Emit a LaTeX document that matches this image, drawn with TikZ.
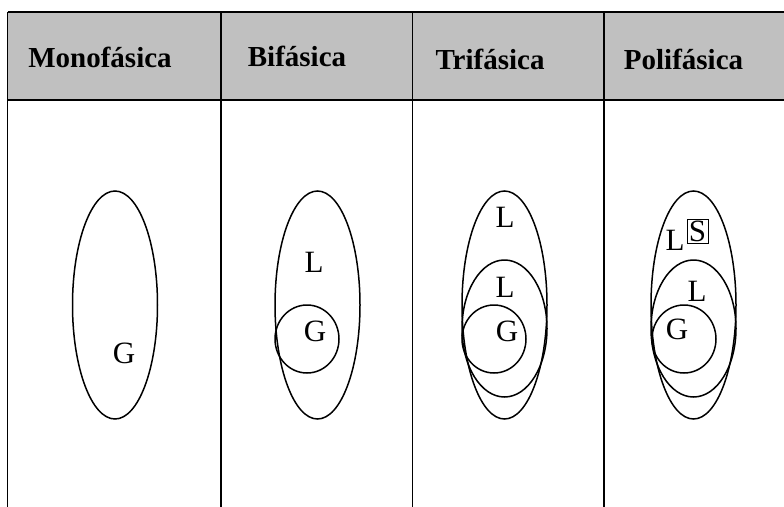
\documentclass[tikz,border=0pt]{standalone}
\usepackage{fontspec}
\setmainfont{Liberation Serif}
\begin{document}
\begin{tikzpicture}[x=1pt,y=-1pt,
  gridline/.style={line width=1.5pt,black},
  outline/.style={line width=1.5pt,black},
  head/.style={anchor=base,font=\fontsize{29}{30}\selectfont\bfseries,inner sep=0pt},
  lbl/.style={anchor=center,font=\fontsize{31}{32}\selectfont,inner sep=0pt}]
\useasboundingbox (0,0) rectangle (784,506);
\fill[fill={rgb,255:red,192;green,192;blue,192}] (7.5,12) rectangle (790,100);
% table lines
\draw[gridline] (7.5,12) -- (790,12);
\draw[gridline] (7.5,100) -- (790,100);
\draw[gridline] (7.5,12) -- (7.5,510);
\draw[gridline] (221,12) -- (221,510);
\draw[gridline] (412.5,12) -- (412.5,510);
\draw[gridline] (604,12) -- (604,510);
% headers
\node[head] (h1) at (100,67) {Monofásica};
\node[head] (h2) at (297,66) {Bifásica};
\node[head] (h3) at (490,69) {Trifásica};
\node[head] (h4) at (683.5,69) {Polifásica};
% Monofasica
\draw[outline] (115,305) ellipse [x radius=42.5,y radius=114];
\node[lbl] (g1) at (124,353) {G};
% Bifasica
\draw[outline] (317.5,305) ellipse [x radius=42.5,y radius=114];
\draw[outline] (307,339) ellipse [x radius=32,y radius=34];
\node[lbl] (l2) at (314,262) {L};
\node[lbl] (g2) at (315,331) {G};
% Trifasica
\draw[outline] (504.5,305) ellipse [x radius=42.5,y radius=114];
\draw[outline] (504.5,328.5) ellipse [x radius=42.5,y radius=68.5];
\draw[outline] (494,339) ellipse [x radius=32,y radius=34];
\node[lbl] (l3a) at (505,217) {L};
\node[lbl] (l3b) at (505,287) {L};
\node[lbl] (g3) at (507,331) {G};
% Polifasica
\draw[outline] (693.5,305) ellipse [x radius=42.5,y radius=114];
\draw[outline] (693.5,328.5) ellipse [x radius=42.5,y radius=68.5];
\draw[outline] (684,339) ellipse [x radius=32,y radius=34];
\node[lbl] (l4a) at (675,240) {L};
\node[lbl,draw,line width=0.9pt,inner sep=1pt,minimum width=21pt,minimum height=24pt] (s4) at (697.5,231) {S};
\node[lbl] (l4b) at (697,291) {L};
\node[lbl] (g4) at (677,329) {G};
\end{tikzpicture}
\end{document}
